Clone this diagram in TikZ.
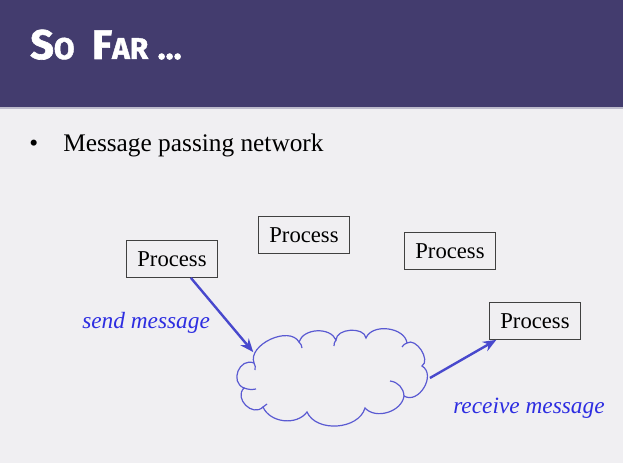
\documentclass[tikz,border=0pt]{standalone}
\usepackage{fontspec}
\setmainfont{Liberation Serif}
\newfontfamily\titlefont{Fira Sans}[FakeBold=1.5]
\usetikzlibrary{arrows.meta,shapes.geometric,positioning}
\definecolor{headbg}{RGB}{67,60,110}
\definecolor{slidebg}{RGB}{240,239,242}
\definecolor{msgblue}{RGB}{45,45,225}
\definecolor{arrblue}{RGB}{72,72,205}

\begin{document}
\begin{tikzpicture}[x=0.75pt, y=-0.75pt,
    proc/.style={draw=black!75, fill=slidebg, line width=0.8pt, minimum width=68pt, minimum height=27.5pt, inner sep=0pt, font=\fontsize{17}{17}\selectfont},
    msg/.style={text=msgblue, font=\fontsize{17.5}{17.5}\selectfont\itshape},
    arr/.style={-{Stealth[length=10pt, width=8pt]}, line width=1.8pt, draw=arrblue},
    puff/.style={draw=arrblue!90, line width=0.9pt}
]
% slide background and header band
\fill[slidebg] (0,0) rectangle (623,463);
\fill[headbg] (0,0) rectangle (623,107);
\fill[headbg!35] (0,107) rectangle (623,109);
\useasboundingbox (0,0) rectangle (623,463);

\node[anchor=base west, text=white, inner sep=0pt] (title) at (30,59)
  {\titlefont\bfseries{\fontsize{31}{31}\selectfont S}{\fontsize{22.5}{22.5}\selectfont O}\hspace{13pt}{\fontsize{31}{31}\selectfont F}{\fontsize{22.5}{22.5}\selectfont AR}\hspace{7pt}{\fontsize{25}{25}\selectfont ...}};

\node[anchor=base west, inner sep=0pt, font=\fontsize{19}{19}\selectfont] (bul) at (29,152) {\textbullet};
\node[anchor=base west, inner sep=0pt, font=\fontsize{19}{19}\selectfont] (item) at (63,152) {Message passing network};

% processes
\node[proc] (p1) at (172,259) {Process};
\node[proc] (p2) at (304,235) {Process};
\node[proc] (p3) at (450,251) {Process};
\node[proc] (p4) at (535,321) {Process};

% network (outline drawn lobe by lobe)
\node[ellipse, minimum width=145pt, minimum height=68pt, inner sep=0pt] (net) at (333,378) {};
\draw[puff] (244,388) to[bend left=90, looseness=1.5] (254,363)
  to[bend left=85] (299,342) to[bend left=70] (336,340)
  to[bend left=85] (366,338) to[bend left=75] (407,343)
  to[bend left=90] (422,366) to[bend left=90, looseness=1.25] (404,396)
  to[bend left=65] (365,408) to[bend left=70] (307,412)
  to[bend left=60] (263,407) to[bend left=90, looseness=1.4] cycle;
\draw[puff] (390,381) to[bend left=40] (404,396);
\draw[puff] (244,388) to[bend right=15] (256,389);
\draw[puff] (254,363) to[bend left=20] (255,370);
\draw[puff] (299,342) to[bend left=20] (302,348);
\draw[puff] (336,340) to[bend right=20] (334,346);
\draw[puff] (407,343) to[bend right=20] (402,347);
\draw[puff] (263,407) to[bend left=20] (267,404);

\draw[arr] (p1.-45) -- (net.162);
\draw[arr] (net.east) -- (p4.206);

\node[msg, anchor=base west, inner sep=0pt] (snd) at (82,328) {send message};
\node[msg, anchor=base west, inner sep=0pt] (rcv) at (453,413) {receive message};
\end{tikzpicture}
\end{document}
